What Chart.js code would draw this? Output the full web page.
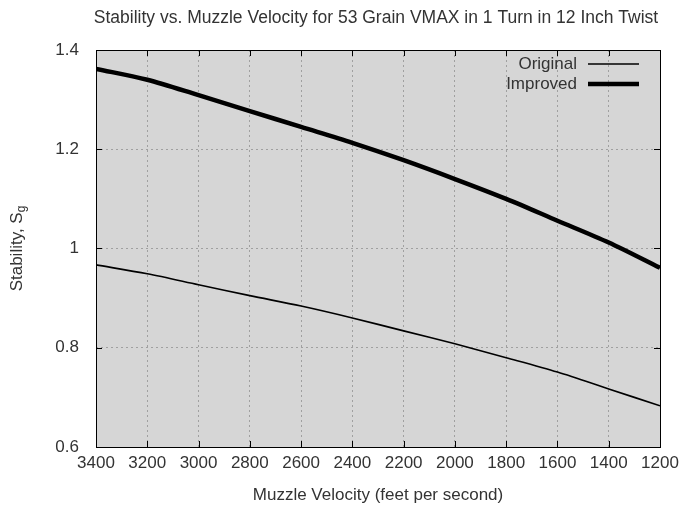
<!DOCTYPE html>
<html>
<head>
<meta charset="utf-8">
<script src="https://cdn.jsdelivr.net/npm/chart.js@4.4.1/dist/chart.umd.min.js"></script>
<style>
  html, body { margin: 0; padding: 0; background: #fff; }
  #wrap { width: 679px; height: 510px; position: relative; }
</style>
</head>
<body>
<div id="wrap"><canvas id="stabilityChart"></canvas></div>
<script>
const velocities = [3400, 3200, 3000, 2800, 2600, 2400, 2200, 2000, 1800, 1600, 1400, 1200];
const originalSg = [0.967, 0.949, 0.927, 0.905, 0.884, 0.860, 0.834, 0.808, 0.780, 0.751, 0.717, 0.683];
const improvedSg = [1.362, 1.340, 1.309, 1.277, 1.245, 1.213, 1.178, 1.140, 1.100, 1.056, 1.012, 0.961];
const yTicks = [0.6, 0.8, 1, 1.2, 1.4];
const chartTitle = 'Stability vs. Muzzle Velocity for 53 Grain VMAX in 1 Turn in 12 Inch Twist';

const FONT = '"Liberation Sans", Arial, sans-serif';
const TEXT = '#333';

// gnuplot-like frame: grey background, border, inward ticks, title, legend
const gnuFrame = {
    id: 'gnuFrame',
    beforeDraw(chart) {
        const {ctx, chartArea: {left, top, width, height}} = chart;
        ctx.save();
        ctx.fillStyle = '#d6d6d6';
        ctx.fillRect(left, top, width, height);
        ctx.restore();
    },
    afterDraw(chart) {
        const {ctx, chartArea: {left, top, right, bottom}, scales: {x, y}} = chart;
        ctx.save();
        // ticks
        ctx.strokeStyle = '#000';
        ctx.lineWidth = 1;
        ctx.beginPath();
        x.ticks.forEach(t => {
            const px = Math.round(x.getPixelForValue(t.value)) + 0.5;
            ctx.moveTo(px, top); ctx.lineTo(px, top + 6);
            ctx.moveTo(px, bottom); ctx.lineTo(px, bottom - 6);
        });
        y.ticks.forEach(t => {
            const py = Math.round(y.getPixelForValue(t.value)) + 0.5;
            ctx.moveTo(left, py); ctx.lineTo(left + 6, py);
            ctx.moveTo(right, py); ctx.lineTo(right - 6, py);
        });
        ctx.stroke();
        // border
        ctx.strokeRect(Math.round(left) + 0.5, Math.round(top) + 0.5,
            Math.round(right - left), Math.round(bottom - top));

        // title
        ctx.fillStyle = TEXT;
        ctx.font = '17.5px ' + FONT;
        ctx.textAlign = 'center';
        ctx.textBaseline = 'middle';
        ctx.fillText(chartTitle, 376, 18);

        // y axis title with subscript, centred on the plot like gnuplot
        ctx.translate(17, (top + bottom) / 2);
        ctx.rotate(-Math.PI / 2);
        ctx.textAlign = 'left';
        ctx.font = '17px ' + FONT;
        const main = 'Stability, S';
        const w = ctx.measureText(main).width;
        ctx.font = '12px ' + FONT;
        const ws = ctx.measureText('g').width;
        const start = -(w + ws) / 2;
        ctx.font = '17px ' + FONT;
        ctx.fillText(main, start, 0);
        ctx.font = '12px ' + FONT;
        ctx.fillText('g', start + w, 5);
        ctx.restore();

        // legend
        ctx.save();
        ctx.font = '17px ' + FONT;
        ctx.fillStyle = TEXT;
        ctx.textAlign = 'right';
        ctx.textBaseline = 'middle';
        chart.data.datasets.forEach((ds, i) => {
            const ly = 64 + i * 20;
            ctx.fillText(ds.label, 577, ly);
            ctx.strokeStyle = '#000';
            ctx.lineWidth = ds.borderWidth;
            ctx.beginPath();
            ctx.moveTo(588, ly);
            ctx.lineTo(639, ly);
            ctx.stroke();
        });
        ctx.restore();
    }
};

const toPoints = arr => velocities.map((v, i) => ({x: v, y: arr[i]}));

new Chart(document.getElementById('stabilityChart'), {
    type: 'line',
    data: {
        datasets: [{
            label: 'Original',
            data: toPoints(originalSg),
            borderColor: '#000',
            borderWidth: 1.6,
            pointRadius: 0,
            tension: 0.3,
            fill: false
        }, {
            label: 'Improved',
            data: toPoints(improvedSg),
            borderColor: '#000',
            borderWidth: 4.5,
            pointRadius: 0,
            tension: 0.3,
            fill: false
        }]
    },
    options: {
        responsive: true,
        maintainAspectRatio: false,
        animation: false,
        layout: { padding: { top: 50, right: 19, left: 0, bottom: 0 } },
        plugins: {
            legend: { display: false },
            tooltip: { enabled: false }
        },
        scales: {
            x: {
                type: 'linear',
                reverse: true,
                min: 1200,
                max: 3400,
                afterFit: s => { s.height = 63; s.paddingLeft = 0; s.paddingRight = 0; },
                grid: {
                    color: '#a0a0a0',
                    drawTicks: false
                },
                border: { display: false, dash: [2, 3] },
                ticks: {
                    stepSize: 200,
                    padding: 6,
                    color: TEXT,
                    font: { family: FONT, size: 17 },
                    callback: v => String(v)
                },
                title: {
                    display: true,
                    text: 'Muzzle Velocity (feet per second)',
                    color: TEXT,
                    font: { family: FONT, size: 17 },
                    padding: { top: 0, bottom: 4 }
                }
            },
            y: {
                min: 0.6,
                max: 1.4,
                afterFit: s => { s.width = 96; s.paddingTop = 0; s.paddingBottom = 0; },
                afterBuildTicks: s => { s.ticks = yTicks.map(v => ({value: v})); },
                grid: {
                    color: '#a0a0a0',
                    drawTicks: false
                },
                border: { display: false, dash: [2, 3] },
                ticks: {
                    padding: 17,
                    color: TEXT,
                    font: { family: FONT, size: 17 },
                    callback: v => String(v)
                }
            }
        }
    },
    plugins: [gnuFrame]
});
</script>
</body>
</html>
